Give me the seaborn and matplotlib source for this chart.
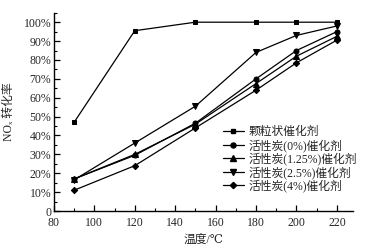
import matplotlib
matplotlib.use("Agg")
import matplotlib.pyplot as plt
import seaborn as sns
import pandas as pd
from matplotlib.ticker import MultipleLocator, FuncFormatter
from matplotlib.lines import Line2D

sns.set_theme(style="ticks")
plt.rcParams['font.family'] = ['Liberation Serif', 'DejaVu Serif', 'Noto Sans CJK SC']

temps = [90, 120, 150, 180, 200, 220]
granular = [47, 95.5, 100, 100, 100, 100]
ac_0 = [17, 29.5, 46.5, 70, 85, 95]
ac_125 = [17, 30, 46, 67.5, 82, 92.5]
ac_25 = [16.5, 36, 55.5, 84, 93, 98]
ac_4 = [11, 24, 44, 64, 78.5, 90.5]
labels = ["颗粒状催化剂", "活性炭(0%)催化剂", "活性炭(1.25%)催化剂", "活性炭(2.5%)催化剂", "活性炭(4%)催化剂"]
markers = ["s", "o", "^", "v", "D"]
msizes = [3.3, 3.6, 3.8, 3.8, 3.2]

series = [granular, ac_0, ac_125, ac_25, ac_4]
rows = []
for lab, vals in zip(labels, series):
    for t, v in zip(temps, vals):
        rows.append({"temp": t, "conv": v, "series": lab})
df = pd.DataFrame(rows)

fig = plt.figure(figsize=(3.67, 2.5), dpi=100)
ax = fig.add_axes([0.147, 0.156, 0.815, 0.793])

for lab, m, ms in zip(labels, markers, msizes):
    sub = df[df["series"] == lab]
    sns.lineplot(data=sub, x="temp", y="conv", ax=ax, color="black", lw=0.9,
                 marker=m, markersize=ms, markeredgecolor="black", legend=False)

ax.set_xlim(80, 228)
ax.set_ylim(0, 105)
ax.xaxis.set_major_locator(MultipleLocator(20))
ax.xaxis.set_minor_locator(MultipleLocator(10))
ax.yaxis.set_major_locator(MultipleLocator(10))
ax.yaxis.set_minor_locator(MultipleLocator(5))
ax.yaxis.set_major_formatter(FuncFormatter(lambda v, p: "0" if v == 0 else f"{int(round(v))}%"))
ax.tick_params(which="major", direction="in", length=4, width=0.9, labelsize=8.5, pad=2, color="black")
ax.tick_params(which="minor", direction="in", length=2, width=0.8, color="black")
ax.tick_params(axis="x", which="major", pad=4)
for s in ["top", "right"]:
    ax.spines[s].set_visible(False)
for s in ["left", "bottom"]:
    ax.spines[s].set_color("black")
    ax.spines[s].set_linewidth(1.0)

ax.set_xlabel("温度/℃", fontsize=8.5, labelpad=4)
ax.set_ylabel("NOₓ 转化率", fontsize=8.5, labelpad=6)

handles = [Line2D([0], [0], color="black", lw=0.9, marker=m, markersize=ms)
           for m, ms in zip(markers, msizes)]
ax.legend(handles, labels, loc="center left", bbox_to_anchor=(0.545, 0.26), frameon=False,
          fontsize=8.5, handlelength=1.8, handletextpad=0.4, labelspacing=0.05, borderpad=0)

fig.savefig("out.png", dpi=100)
